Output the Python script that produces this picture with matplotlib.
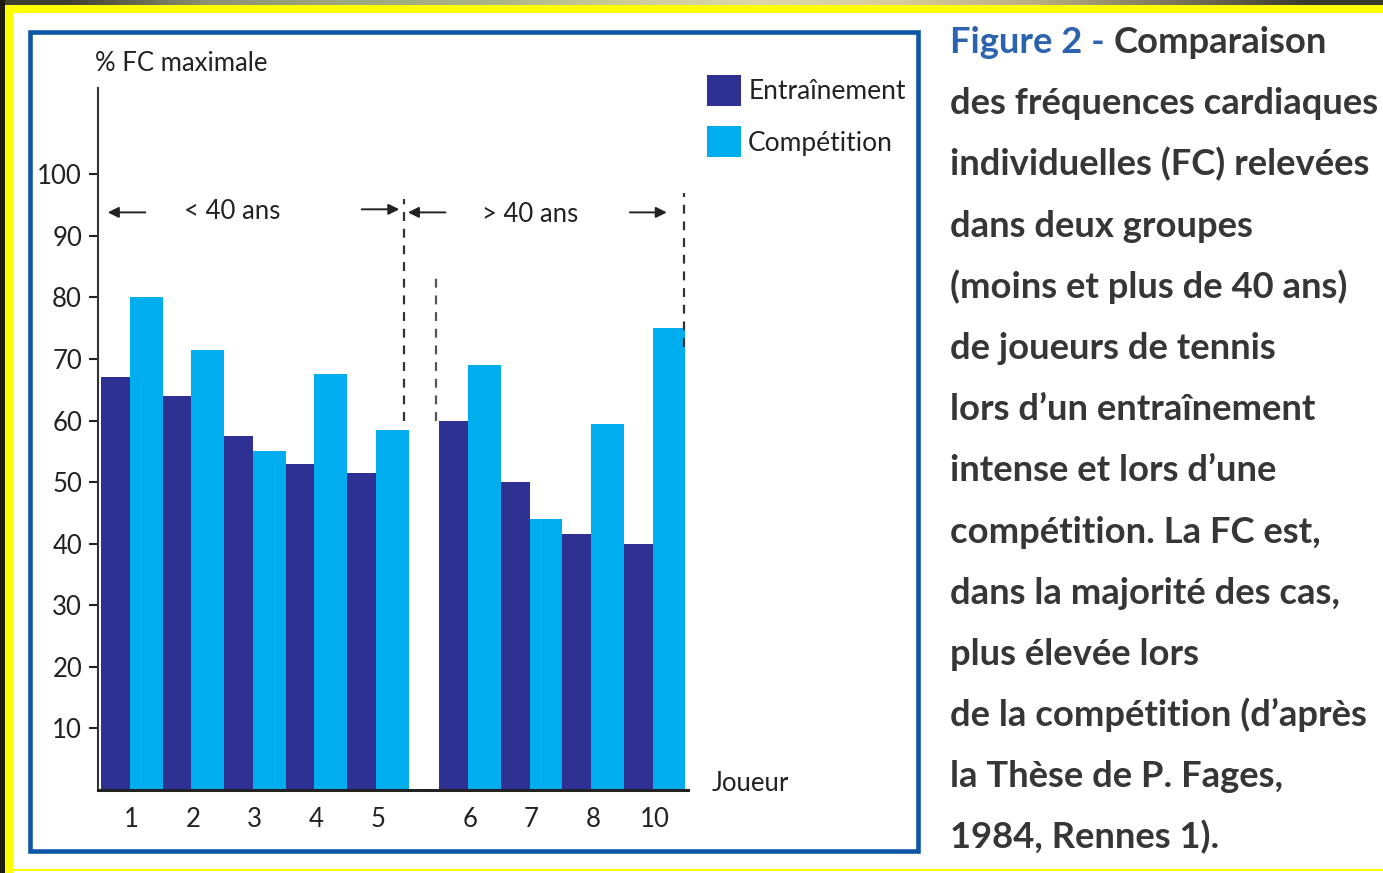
import numpy as np
import matplotlib
matplotlib.use('Agg')
import matplotlib.pyplot as plt
from matplotlib.patches import Rectangle

# 선수별 최대 심박수 대비 비율 (%)
joueurs = ['1', '2', '3', '4', '5', '6', '7', '8', '10']
entrainement = [67, 64, 57.5, 53, 51.5, 60, 50, 41.5, 40]
competition = [80, 71.5, 55, 67.5, 58.5, 69, 44, 59.5, 75]
groupe_moins_40 = 5          # 앞의 5명은 40세 미만

legende = ['Entraînement', 'Compétition']
y_ticks = [10, 20, 30, 40, 50, 60, 70, 80, 90, 100]

legende_lignes = [
    'des fréquences cardiaques',
    'individuelles (FC) relevées',
    'dans deux groupes',
    '(moins et plus de 40 ans)',
    'de joueurs de tennis',
    'lors d\u2019un entraînement',
    'intense et lors d\u2019une',
    'compétition. La FC est,',
    'dans la majorité des cas,',
    'plus élevée lors',
    'de la compétition (d\u2019après',
    'la Thèse de P. Fages,',
    '1984, Rennes 1).',
]

col_fonce = '#2e3192'
col_clair = '#00aeef'
col_cadre = '#0d55a5'
col_texte = '#222222'
taille = 18.5

plt.rcParams['font.family'] = ['Lato', 'DejaVu Sans']

W, H = 1383, 873
fig = plt.figure(figsize=(W / 100, H / 100), dpi=100, facecolor='white')

# 배경용 축 (픽셀 좌표)
bg = fig.add_axes([0, 0, 1, 1], zorder=-1)
bg.set_xlim(0, W)
bg.set_ylim(H, 0)
bg.axis('off')

# 노란 테두리와 상단 띠
bg.add_patch(Rectangle((0, 0), 4.5, H, color='#1c1c12', lw=0))
bg.add_patch(Rectangle((4.5, 5), 8, H - 5, color='#ffff00', lw=0))
bg.add_patch(Rectangle((4.5, 5), W, 8, color='#ffff00', lw=0))
bg.add_patch(Rectangle((4.5, 868.5), W, 2.5, color='#ffff00', lw=0))
bande = np.array([[[0.25, 0.25, 0.19], [0.55, 0.57, 0.45], [0.62, 0.66, 0.50],
                   [0.66, 0.70, 0.52], [0.80, 0.80, 0.60], [0.86, 0.84, 0.66],
                   [0.84, 0.80, 0.60], [0.72, 0.68, 0.50], [0.48, 0.46, 0.36],
                   [0.22, 0.22, 0.17]]])
bg.imshow(bande, extent=(0, W, 5, 0), aspect='auto', interpolation='bilinear')
bg.set_xlim(0, W)
bg.set_ylim(H, 0)

# 파란 테두리 상자
bg.add_patch(Rectangle((30, 32), 888, 819, fill=False, ec=col_cadre, lw=3.3))

# 오른쪽 설명문
renderer = fig.canvas.get_renderer()
x0, y0, pas = 950, 53, 61.2
t = bg.text(x0, y0, 'Figure 2 - ', fontsize=26.2, fontweight='bold',
            color='#2c63ae', va='baseline', ha='left')
bb = t.get_window_extent(renderer=renderer)
bg.text(x0 + bb.width, y0, 'Comparaison', fontsize=26.2, fontweight='bold',
        color='#363636', va='baseline', ha='left')
for i, ligne in enumerate(legende_lignes):
    bg.text(x0, y0 + pas * (i + 1), ligne, fontsize=26.2, fontweight='bold',
            color='#363636', va='baseline', ha='left')

# 막대 그래프 축
ax = fig.add_axes([98 / W, (H - 790) / H, 590 / W, 702 / H])
ax.set_xlim(-0.05, 9.545)
ax.set_ylim(0, 114)

n = len(joueurs)
debut = np.array([i if i < groupe_moins_40 else i + 0.5 for i in range(n)])
w_fonce = 0.47
b1 = ax.bar(debut, entrainement, width=w_fonce, align='edge', color=col_fonce,
            lw=0, label=legende[0])
b2 = ax.bar(debut + w_fonce, competition, width=1 - w_fonce, align='edge',
            color=col_clair, lw=0, label=legende[1])

for s in ['top', 'right']:
    ax.spines[s].set_visible(False)
ax.spines['left'].set_linewidth(1.5)
ax.spines['left'].set_color('#333333')
ax.spines['bottom'].set_linewidth(2.2)
ax.spines['bottom'].set_color('#222222')

ax.set_yticks(y_ticks)
ax.tick_params(axis='y', length=6.5, width=1.5, direction='out', pad=5,
               labelsize=taille, colors=col_texte)
ax.set_xticks(debut + 0.5)
ax.set_xticklabels(joueurs)
ax.tick_params(axis='x', length=0, pad=12, labelsize=taille, colors=col_texte)

ax.text(-0.1, 118.0, '% FC maximale', fontsize=taille, color=col_texte,
        ha='left', va='center', clip_on=False)
ax.text(9.93, 1.1, 'Joueur', fontsize=taille, color=col_texte,
        ha='left', va='center', clip_on=False)

# 연령 구분 표시
fin_g1 = groupe_moins_40 - 0.07
debut_g2 = groupe_moins_40 + 0.45
fin_g2 = debut[-1] + 0.98
ax.plot([fin_g1, fin_g1], [60, 96], color='#333333', lw=1.6, dashes=[4, 3.5],
        clip_on=False)
ax.plot([debut_g2, debut_g2], [60, 84], color='#555555', lw=1.6, dashes=[4, 3.5],
        clip_on=False)
ax.plot([fin_g2, fin_g2], [72, 97], color='#333333', lw=1.6, dashes=[4, 3.5],
        clip_on=False)

fleche = dict(arrowstyle='-|>', color='#222222', lw=1.4, mutation_scale=16,
              shrinkA=0, shrinkB=0)
ax.annotate('', xy=(0.11, 93.8), xytext=(0.72, 93.8), arrowprops=fleche,
            annotation_clip=False)
ax.annotate('', xy=(4.85, 94.3), xytext=(4.24, 94.3), arrowprops=fleche,
            annotation_clip=False)
ax.annotate('', xy=(4.99, 93.8), xytext=(5.6, 93.8), arrowprops=fleche,
            annotation_clip=False)
ax.annotate('', xy=(9.2, 93.8), xytext=(8.6, 93.8), arrowprops=fleche,
            annotation_clip=False)
ax.text(2.13, 94.0, '< 40 ans', fontsize=taille, color=col_texte,
        ha='center', va='center')
ax.text(6.98, 93.5, '> 40 ans', fontsize=taille, color=col_texte,
        ha='center', va='center')

# 범례
fig.legend(handles=[b1, b2], loc='upper left',
           bbox_to_anchor=(707 / W, 1 - 75 / H), frameon=False,
           fontsize=19, borderpad=0, borderaxespad=0,
           handlelength=1.29, handleheight=1.45, handletextpad=0.27,
           labelspacing=0.75, labelcolor=col_texte)

fig.savefig('out.png', dpi=100, facecolor='white')
